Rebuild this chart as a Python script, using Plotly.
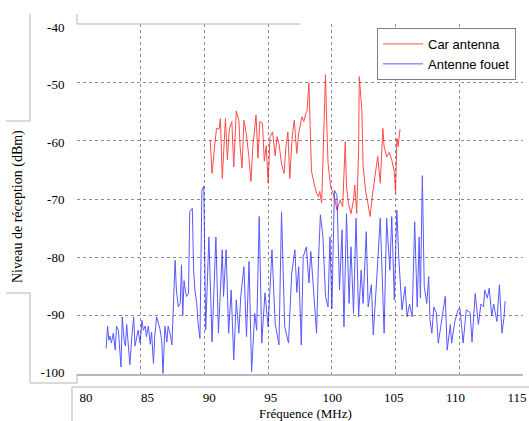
import plotly.graph_objects as go

# ---------------- data ----------------
blue_freq = [82.28, 82.40, 82.50, 82.60, 82.70, 82.85, 83.00, 83.10, 83.25, 83.40, 83.45, 83.55, 83.70, 83.80,
             83.90, 84.00, 84.15, 84.30, 84.45, 84.55, 84.70, 84.80, 84.95, 85.10, 85.20, 85.35, 85.45, 85.60,
             85.75, 85.85, 86.00, 86.10, 86.25, 86.40, 86.50, 86.65, 86.75, 86.90, 87.05, 87.15, 87.30, 87.45,
             87.55, 87.70, 87.80, 87.95, 88.10, 88.20, 88.30, 88.40, 88.50, 88.60, 88.75, 88.85, 89.05, 89.15,
             89.25, 89.40, 89.50, 89.65, 89.80, 89.95, 90.10, 90.35, 90.60, 90.90, 91.10, 91.40, 91.50, 91.70,
             91.90, 92.10, 92.30, 92.50, 92.70, 92.85, 93.10, 93.30, 93.50, 93.70, 93.95, 94.10, 94.30, 94.50,
             94.75, 95.00, 95.30, 95.55, 95.85, 96.05, 96.30, 96.60, 96.85, 97.10, 97.25, 97.40, 97.60, 97.75,
             98.00, 98.20, 98.35, 98.60, 98.80, 98.95, 99.10, 99.30, 99.50, 99.70, 99.85, 100.00, 100.20, 100.40,
             100.60, 100.80, 100.95, 101.15, 101.35, 101.50, 101.70, 101.90, 102.10, 102.30, 102.45, 102.70,
             102.85, 103.10, 103.25, 103.50, 103.80, 104.10, 104.30, 104.55, 104.70, 104.90, 105.10, 105.25,
             105.50, 105.75, 105.90, 106.10, 106.30, 106.50, 106.70, 106.85, 106.95, 107.10, 107.25, 107.45,
             107.60, 107.70, 107.85, 108.00, 108.20, 108.35, 108.60, 108.90, 109.05, 109.30, 109.40, 109.65,
             109.90, 110.05, 110.30, 110.55, 110.85, 111.00, 111.25, 111.50, 111.70, 111.90, 112.00, 112.20,
             112.35, 112.55, 112.70, 112.95, 113.15, 113.35, 113.50, 113.60]
blue_level = [-95.6, -91.8, -94.2, -93.5, -94.7, -93.0, -95.9, -91.8, -92.5, -98.2, -98.8, -90.2, -94.3, -95.2,
              -91.5, -94.3, -98.4, -93.6, -90.2, -95.2, -93.3, -92.5, -94.7, -90.8, -92.5, -91.8, -93.6, -91.8,
              -94.9, -92.8, -98.2, -93.6, -90.2, -91.5, -92.2, -94.3, -99.9, -91.8, -94.5, -91.8, -93.0, -95.0,
              -90.2, -80.5, -85.6, -88.5, -87.9, -81.3, -90.0, -84.0, -85.6, -86.7, -86.2, -72.2, -71.6, -82.2,
              -85.6, -87.9, -91.3, -93.9, -68.5, -67.8, -92.5, -76.5, -94.5, -76.5, -93.0, -78.7, -86.7, -78.7,
              -93.0, -85.6, -97.6, -87.3, -93.0, -86.7, -81.6, -93.6, -80.7, -99.6, -89.6, -92.5, -73.0, -94.7,
              -86.1, -91.9, -78.7, -91.3, -95.0, -72.2, -91.9, -94.7, -82.7, -78.7, -86.0, -81.6, -95.0, -79.9,
              -78.2, -84.4, -79.0, -86.7, -93.0, -80.7, -72.7, -76.5, -86.7, -88.5, -76.5, -88.8, -68.5, -69.3,
              -85.6, -75.3, -91.9, -72.5, -87.9, -78.2, -89.6, -73.3, -90.2, -82.2, -87.9, -75.6,
              -88.5, -84.7, -93.3, -84.4, -73.3, -93.0, -73.3, -82.2, -73.0, -87.3, -71.9, -80.0,
              -89.0, -85.0, -90.2, -88.0, -90.2, -73.9, -88.5, -76.5, -87.0, -66.0, -85.0, -87.9,
              -83.3, -90.7, -93.0, -88.5, -89.5, -94.7, -91.0, -86.7, -95.9, -91.5, -94.7, -91.0,
              -89.0, -88.7, -94.7, -89.0, -89.5, -94.5, -86.2, -91.5, -88.0, -88.5, -85.6, -87.0,
              -85.3, -90.0, -88.0, -91.0, -84.7, -93.0, -90.5, -87.5]

red_freq = [90.45, 90.60, 90.80, 90.95, 91.15, 91.25, 91.40, 91.55, 91.65, 91.80, 91.95, 92.15, 92.30, 92.50,
            92.70, 92.80, 92.95, 93.10, 93.30, 93.50, 93.65, 93.80, 93.90, 94.05, 94.20, 94.35, 94.55, 94.70,
            94.85, 95.00, 95.15, 95.35, 95.55, 95.70, 95.85, 96.05, 96.25, 96.40, 96.55, 96.70, 96.90, 97.05,
            97.25, 97.40, 97.65, 97.80, 97.95, 98.05, 98.20, 98.30, 98.40, 98.60, 98.80, 98.95, 99.05, 99.20,
            99.40, 99.50, 99.60, 99.70, 99.90, 100.10, 100.25, 100.40, 100.65, 100.85, 101.05, 101.15, 101.30,
            101.50, 101.70, 101.80, 101.95, 102.10, 102.15, 102.35, 102.45, 102.65, 102.80, 103.00, 103.20,
            103.40, 103.60, 103.80, 104.00, 104.10, 104.30, 104.50, 104.70, 104.90, 105.00, 105.10, 105.20, 105.35]
red_level = [-59.9, -65.6, -61.0, -57.9, -58.0, -56.2, -66.5, -60.0, -56.2, -63.3, -58.0, -56.7, -64.5, -54.9,
             -56.5, -61.0, -64.7, -56.5, -59.0, -63.0, -67.0, -61.0, -58.5, -55.6, -63.0, -56.7, -57.0, -63.5,
             -60.9, -67.3, -59.3, -58.5, -62.6, -59.3, -60.5, -64.0, -65.6, -61.0, -58.5, -66.5, -59.0, -56.5,
             -62.2, -58.7, -55.9, -56.7, -55.3, -55.0, -50.1, -58.0, -65.2, -67.3, -69.0, -69.6, -68.7, -70.7,
             -57.0, -48.7, -57.0, -63.8, -67.9, -69.0, -70.2, -71.9, -70.2, -71.3, -60.2, -67.9, -70.7,
             -72.5, -70.2, -67.6, -72.5, -61.6, -49.0, -54.6, -64.3, -68.7, -70.4, -73.0, -69.0,
             -65.6, -62.7, -67.3, -57.9, -61.0, -62.8, -62.0, -63.3, -65.3, -69.0, -59.6, -61.0, -58.0]

x_grid = [85, 90, 95, 100, 105, 110, 115]
x_ticks = [80, 85, 90, 95, 100, 105, 110, 115]
x_tick_labels = ["80", "85", "90", "95", "100", "105", "110", "115"]
y_grid = [-90, -80, -70, -60, -50, -40]
y_ticks = [-100, -90, -80, -70, -60, -50, -40]
y_tick_labels = ["-100", "-90", "-80", "-70", "-60", "-50", "-40"]

# ---------------- layout helpers ----------------
W, H = 529, 421
L, R, T, B = 77, 523, 24, 374


def px(xp):
    return (xp - L) / (R - L)


def py(yp):
    return (B - yp) / (B - T)


serif = "Liberation Serif, Times New Roman, serif"
sans = "Liberation Sans, Arial, sans-serif"

fig = go.Figure()
fig.add_trace(go.Scatter(x=red_freq, y=red_level, mode="lines", name="Car antenna",
                         line=dict(color="rgb(255,0,0)", width=1), opacity=0.7))
fig.add_trace(go.Scatter(x=blue_freq, y=blue_level, mode="lines", name="Antenne fouet",
                         line=dict(color="rgb(0,0,255)", width=1), opacity=0.65))
# empty trace to host the label axes
fig.add_trace(go.Scatter(x=[], y=[], xaxis="x2", yaxis="y2", showlegend=False, hoverinfo="skip"))

line_col = "#b4b4b4"
segments = [
    (77, 14, 77, 24),
    (77, 24, 300, 24),
    (30, 14, 30, 121),
    (6, 121, 30, 121),
    (6, 293, 30, 293),
    (30, 293, 30, 383),
    (30, 383, 77, 383),
    (77, 374, 77, 383),
    (72, 387, 72, 421),
    (72, 387, 529, 387),
]
shapes = [dict(type="line", xref="paper", yref="paper", x0=px(a), y0=py(b), x1=px(c), y1=py(d),
               line=dict(color=line_col, width=1)) for a, b, c, d in segments]

fig.update_layout(
    template="none",
    width=W, height=H,
    margin=dict(l=L, r=W - R, t=T, b=H - B, pad=0, autoexpand=False),
    paper_bgcolor="white", plot_bgcolor="rgba(0,0,0,0)",
    showlegend=True,
    legend=dict(x=px(377), y=py(28), xanchor="left", yanchor="top",
                bgcolor="white", bordercolor="#808080", borderwidth=1,
                font=dict(family=sans, size=13, color="black"),
                tracegroupgap=0, itemwidth=40),
    xaxis=dict(range=[80, 115], tickvals=x_grid, showticklabels=False, ticks="", automargin=False,
               showgrid=True, gridcolor="#8c8c8c", griddash="dot", gridwidth=1,
               showline=True, linecolor="#b8b8b8", linewidth=2, zeroline=False),
    yaxis=dict(range=[-100, -40], tickvals=y_grid, showticklabels=False, ticks="", automargin=False,
               showgrid=True, gridcolor="#8c8c8c", griddash="dot", gridwidth=1,
               showline=False, zeroline=False),
    xaxis2=dict(domain=[px(86), px(517)], range=[80, 115], anchor="free", position=0, automargin=False,
                tickvals=x_ticks, ticktext=x_tick_labels, ticks="outside", ticklen=11,
                tickcolor="rgba(0,0,0,0)", showgrid=False, showline=False, zeroline=False,
                tickfont=dict(family=serif, size=13, color="black")),
    yaxis2=dict(domain=[py(372), py(27)], range=[-100, -40], anchor="free", position=0, automargin=False,
                side="left", tickvals=y_ticks, ticktext=y_tick_labels, ticks="outside", ticklen=10,
                tickcolor="rgba(0,0,0,0)", showgrid=False, showline=False, zeroline=False,
                tickfont=dict(family=serif, size=13, color="black")),
    shapes=shapes,
    annotations=[
        dict(text="Niveau de réception (dBm)", xref="paper", yref="paper", x=px(18), y=py(207),
             xanchor="center", yanchor="middle", textangle=-90, showarrow=False,
             font=dict(family=serif, size=14, color="black")),
        dict(text="Fréquence (MHz)", xref="paper", yref="paper", x=px(305), y=py(413),
             xanchor="center", yanchor="middle", showarrow=False,
             font=dict(family=serif, size=13, color="black")),
    ],
)

fig.write_html("out.html", config={"displayModeBar": False},
               post_script="document.body.style.margin='0';document.body.style.overflow='hidden';")
